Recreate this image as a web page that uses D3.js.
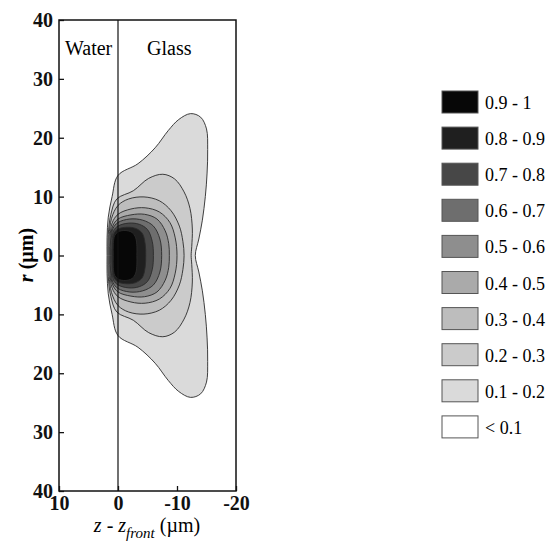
<!DOCTYPE html>
<html>
<head>
<meta charset="utf-8">
<script src="https://cdn.jsdelivr.net/npm/d3@7"></script>
<style>
  body { margin: 0; background: #fff; }
  svg { font-family: "Liberation Serif", "Times New Roman", serif; }
</style>
</head>
<body>
<div id="chart"></div>
<script>
// intensity bands, darkest first (legend order)
const bandLabels = ["0.9 - 1", "0.8 - 0.9", "0.7 - 0.8", "0.6 - 0.7", "0.5 - 0.6",
                    "0.4 - 0.5", "0.3 - 0.4", "0.2 - 0.3", "0.1 - 0.2", "< 0.1"];
const bandFills = ["#070707", "#1f1f1f", "#474747", "#6e6e6e", "#8e8e8e",
                   "#aaaaaa", "#bdbdbd", "#cbcbcb", "#dadada", "#ffffff"];

// isolines, upper half (r >= 0) as [z, r] in µm,
// from the water side at r = 0, over the top, to the glass side at r = 0
const iso01 = [[1.85,0],[1.85,3],[1.65,6.5],[1.0,10],[0,13.6],[-3.4,15.6],[-6.3,18.3],[-8.5,21.2],
               [-10.3,23.1],[-12.3,24.1],[-14,23.5],[-15,21.5],[-15.2,18],[-15.1,14],[-14.8,10],
               [-14.3,6],[-13.7,2.8],[-13.1,0]];
const iso02 = [[1.7,0],[1.65,3.6],[1.2,7],[0.2,9.6],[-2.6,11],[-5.2,13.1],[-7.6,13.8],[-9.6,13],
               [-11.2,10.8],[-12.2,8],[-12.6,4.5],[-12.5,1.5],[-12.4,0]];
const iso03 = [[1.55,0],[1.5,3.3],[1.1,6.3],[0,8.5],[-1.8,9.6],[-4.4,9.95],[-7,9.3],[-9,7.6],
               [-10.4,5],[-11,2.4],[-11.2,0]];
const iso04 = [[1.4,0],[1.35,3],[1.0,5.5],[0,7.0],[-2.2,7.9],[-4.6,8.1],[-7,7.4],[-8.8,5.6],
               [-9.7,3],[-10,0]];
const iso05 = [[1.3,0],[1.25,2.8],[0.9,5],[0,6.2],[-2.2,6.9],[-4.5,7.0],[-6.6,6.2],[-8,4.2],
               [-8.6,2],[-8.7,0]];
const iso06 = [[1.2,0],[1.15,2.6],[0.85,4.6],[0,5.6],[-2,6.2],[-4.2,6.0],[-6,5],[-7.1,2.8],[-7.4,0]];
const iso07 = [[1.05,0],[1.0,2.4],[0.75,4.2],[0,5.0],[-1.8,5.5],[-3.6,5.3],[-5,4.4],[-5.8,2.4],[-6,0]];
const iso08 = [[0.95,0],[0.9,2.2],[0.65,3.8],[0,4.5],[-1.5,4.8],[-3,4.6],[-4.1,3.8],[-4.6,2],[-4.7,0]];
const iso09 = [[0.8,0],[0.8,2],[0.55,3.4],[0,4.0],[-1.2,4.25],[-2.4,3.9],[-3,3],[-3.2,1.5],[-3.2,0]];

const isolines = [iso01, iso02, iso03, iso04, iso05, iso06, iso07, iso08, iso09];

const zTicks = [10, 0, -10, -20];
const rTicks = [40, 30, 20, 10, 0, -10, -20, -30, -40];

const width = 558, height = 548;
const plot = {left: 59, right: 236, top: 20, bottom: 491};

const svg = d3.select("#chart").append("svg")
    .attr("width", width)
    .attr("height", height);

const x = d3.scaleLinear().domain([10, -20]).range([plot.left, plot.right]);
const y = d3.scaleLinear().domain([40, -40]).range([plot.top, plot.bottom]);

// the plot is symmetric in r: close each isoline through its mirror image
function closeRing(half) {
    let lower = half.slice(1, -1).reverse().map(p => [p[0], -p[1]]);
    return half.concat(lower);
}

const line = d3.line()
    .x(d => x(d[0]))
    .y(d => y(d[1]))
    .curve(d3.curveCatmullRomClosed.alpha(0.5));

// outer band first, inner on top
const fillsOutToIn = bandFills.slice(0, 9).reverse();
svg.append("g")
    .attr("class", "bands")
    .selectAll("path")
    .data(isolines)
    .enter().append("path")
    .attr("d", d => line(closeRing(d)))
    .attr("fill", (d, i) => fillsOutToIn[i])
    .attr("stroke", "#2a2a2a")
    .attr("stroke-width", 0.9);

// water / glass interface
svg.append("line")
    .attr("x1", x(0)).attr("x2", x(0))
    .attr("y1", plot.top).attr("y2", plot.bottom)
    .attr("stroke", "#111")
    .attr("stroke-width", 1.2);

// frame
svg.append("rect")
    .attr("x", plot.left).attr("y", plot.top)
    .attr("width", plot.right - plot.left)
    .attr("height", plot.bottom - plot.top)
    .attr("fill", "none")
    .attr("stroke", "#111")
    .attr("stroke-width", 1.5);

// axes
const yAxis = d3.axisLeft(y)
    .tickValues(rTicks)
    .tickFormat(d => Math.abs(d))
    .tickSizeInner(-5)
    .tickSizeOuter(0)
    .tickPadding(6);
const xAxis = d3.axisBottom(x)
    .tickValues(zTicks)
    .tickFormat(d => d)
    .tickSizeInner(-5)
    .tickSizeOuter(0)
    .tickPadding(5);

const gy = svg.append("g")
    .attr("transform", `translate(${plot.left},0)`)
    .call(yAxis);
const gx = svg.append("g")
    .attr("transform", `translate(0,${plot.bottom})`)
    .call(xAxis);

[gx, gy].forEach(g => {
    g.select(".domain").remove();
    g.selectAll(".tick line").attr("stroke", "#111").attr("stroke-width", 1.3);
    g.selectAll(".tick text")
        .attr("fill", "#111")
        .style("font-family", "'Liberation Serif', serif")
        .style("font-size", "20px")
        .style("font-weight", "bold");
});

// region labels
svg.append("text")
    .attr("x", 65).attr("y", 55)
    .style("font-size", "20px")
    .text("Water");
svg.append("text")
    .attr("x", 147).attr("y", 55)
    .style("font-size", "20px")
    .text("Glass");

// axis titles
const xt = svg.append("text")
    .attr("x", 147).attr("y", 532)
    .attr("text-anchor", "middle")
    .style("font-size", "20px");
xt.append("tspan").style("font-style", "italic").text("z");
xt.append("tspan").text(" - ");
xt.append("tspan").style("font-style", "italic").text("z");
xt.append("tspan").style("font-style", "italic").style("font-size", "15px")
    .attr("dy", 6).text("front");
xt.append("tspan").attr("dy", -6).text(" (\u00b5m)");

const yt = svg.append("text")
    .attr("transform", "translate(33,255) rotate(-90)")
    .attr("text-anchor", "middle")
    .style("font-size", "20px")
    .style("font-weight", "bold");
yt.append("tspan").style("font-style", "italic").text("r");
yt.append("tspan").text(" (\u00b5m)");

// legend
const legend = svg.append("g")
    .attr("class", "legend")
    .attr("transform", "translate(442,91)");
const rows = legend.selectAll("g")
    .data(bandLabels)
    .enter().append("g")
    .attr("transform", (d, i) => `translate(0,${i * 36.1})`);
rows.append("rect")
    .attr("width", 36).attr("height", 22)
    .attr("fill", (d, i) => bandFills[i])
    .attr("stroke", "#555")
    .attr("stroke-width", 1);
rows.append("text")
    .attr("x", 43).attr("y", 12)
    .attr("dominant-baseline", "central")
    .style("font-size", "18px")
    .text(d => d);
</script>
</body>
</html>
